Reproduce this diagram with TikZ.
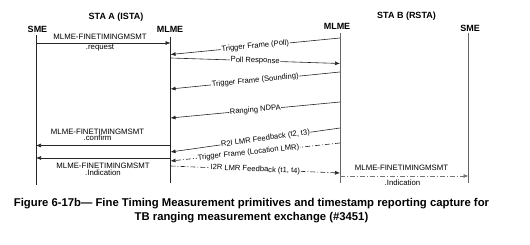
\documentclass[tikz,border=0pt]{standalone}
\usepackage{fontspec}
\setmainfont{Liberation Sans}
\usetikzlibrary{arrows.meta}
\begin{document}
\begin{tikzpicture}[x=1pt,y=-1pt,
  lifeline/.style={line width=0.9pt, draw=black!85},
  msg/.style={line width=0.6pt, draw=black!85, -{Latex[length=5pt,width=4pt]}},
  dd/.style={dash pattern=on 5pt off 2pt on 1pt off 2pt},
  hdr/.style={font=\bfseries\fontsize{9}{10}\selectfont, inner sep=0pt},
  lbl/.style={font=\fontsize{7.8}{9}\selectfont, inner sep=0pt},
  slbl/.style={font=\fontsize{7.6}{9}\selectfont, sloped, fill=white, inner sep=0.6pt, midway}]
\useasboundingbox (0,0) rectangle (530,245);
% headers
\node[hdr] (staA) at (116,17.5) {STA A (ISTA)};
\node[hdr] (smeA) at (37.5,29.5) {SME};
\node[hdr] (mlmeA) at (170,29.5) {MLME};
\node[hdr] (mlmeB) at (337,26) {MLME};
\node[hdr] (staB) at (406.5,16.5) {STA B (RSTA)};
\node[hdr] (smeB) at (470,28.5) {SME};
% lifelines
\coordinate (sAt) at (36,35);  \coordinate (sAb) at (36,185);
\coordinate (mAt) at (170.5,37); \coordinate (mAb) at (170.5,183);
\coordinate (mBt) at (340,33); \coordinate (mBb) at (340,183);
\coordinate (sBt) at (468.5,33); \coordinate (sBb) at (468.5,183);
\draw[lifeline] (sAt) -- (sAb);
\draw[lifeline] (mAt) -- (mAb);
\draw[lifeline,draw=black!60] (mBt) -- (mBb);
\draw[lifeline,draw=black!60] (sBt) -- (sBb);
% message end points
\coordinate (r1a) at (36,43);    \coordinate (r1b) at (170.5,43);
\coordinate (p1a) at (340,38);   \coordinate (p1b) at (170.5,54.5);
\coordinate (p2a) at (170.5,58); \coordinate (p2b) at (340,63.5);
\coordinate (p3a) at (340,72);   \coordinate (p3b) at (170.5,89);
\coordinate (p4a) at (340,102);  \coordinate (p4b) at (170.5,118);
\coordinate (c1a) at (170.5,145.5); \coordinate (c1b) at (36,145.5);
\coordinate (p5a) at (340,128);  \coordinate (p5b) at (170.5,152);
\coordinate (p6a) at (340,143);  \coordinate (p6b) at (170.5,161);
\coordinate (i1a) at (170.5,158); \coordinate (i1b) at (36,158);
\coordinate (p7a) at (170.5,166); \coordinate (p7b) at (340,173);
\coordinate (i2a) at (340,176);  \coordinate (i2b) at (468.5,176);
% messages
\draw[msg] (r1a) -- (r1b);
\node[lbl] (r1t) at (100,37) {MLME-FINETIMINGMSMT};
\node[lbl] (r1u) at (100,47.5) {.request};
\draw[msg] (p1a) -- node[slbl] (p1t) {Trigger Frame (Poll)} (p1b);
\draw[msg] (p2a) -- node[slbl] (p2t) {Poll Response} (p2b);
\draw[msg] (p3a) -- node[slbl] (p3t) {Trigger Frame (Sounding)} (p3b);
\draw[msg] (p4a) -- node[slbl] (p4t) {Ranging NDPA} (p4b);
\draw[msg] (c1a) -- (c1b);
\node[lbl] (c1t) at (97.5,131.5) {MLME-FINETIMINGMSMT};
\node[lbl] (c1u) at (97.5,138) {.confirm};
\draw[msg] (p5a) -- node[slbl,pos=0.44] (p5t) {R2I LMR Feedback (t2, t3)} (p5b);
\draw[msg,dd] (p6a) -- node[slbl,pos=0.54] (p6t) {Trigger Frame (Location LMR)} (p6b);
\draw[msg] (i1a) -- (i1b);
\node[lbl] (i1t) at (103,166) {MLME-FINETIMINGMSMT};
\node[lbl] (i1u) at (103,172.5) {.Indication};
\draw[msg,dd] (p7a) -- node[slbl] (p7t) {I2R LMR Feedback (t1, t4)} (p7b);
\draw[msg,dd,draw=black!55] (i2a) -- (i2b);
\node[lbl] (i2t) at (401.5,168) {MLME-FINETIMINGMSMT};
\node[lbl] (i2u) at (402.5,182.5) {.Indication};
% caption
\node[font=\bfseries\fontsize{11.3}{13.5}\selectfont, align=center, inner sep=0pt] (cap) at (251.5,210.5)
 {Figure 6-17b— Fine Timing Measurement primitives and timestamp reporting capture for\\
  TB ranging measurement exchange (\#3451)};
\end{tikzpicture}
\end{document}
